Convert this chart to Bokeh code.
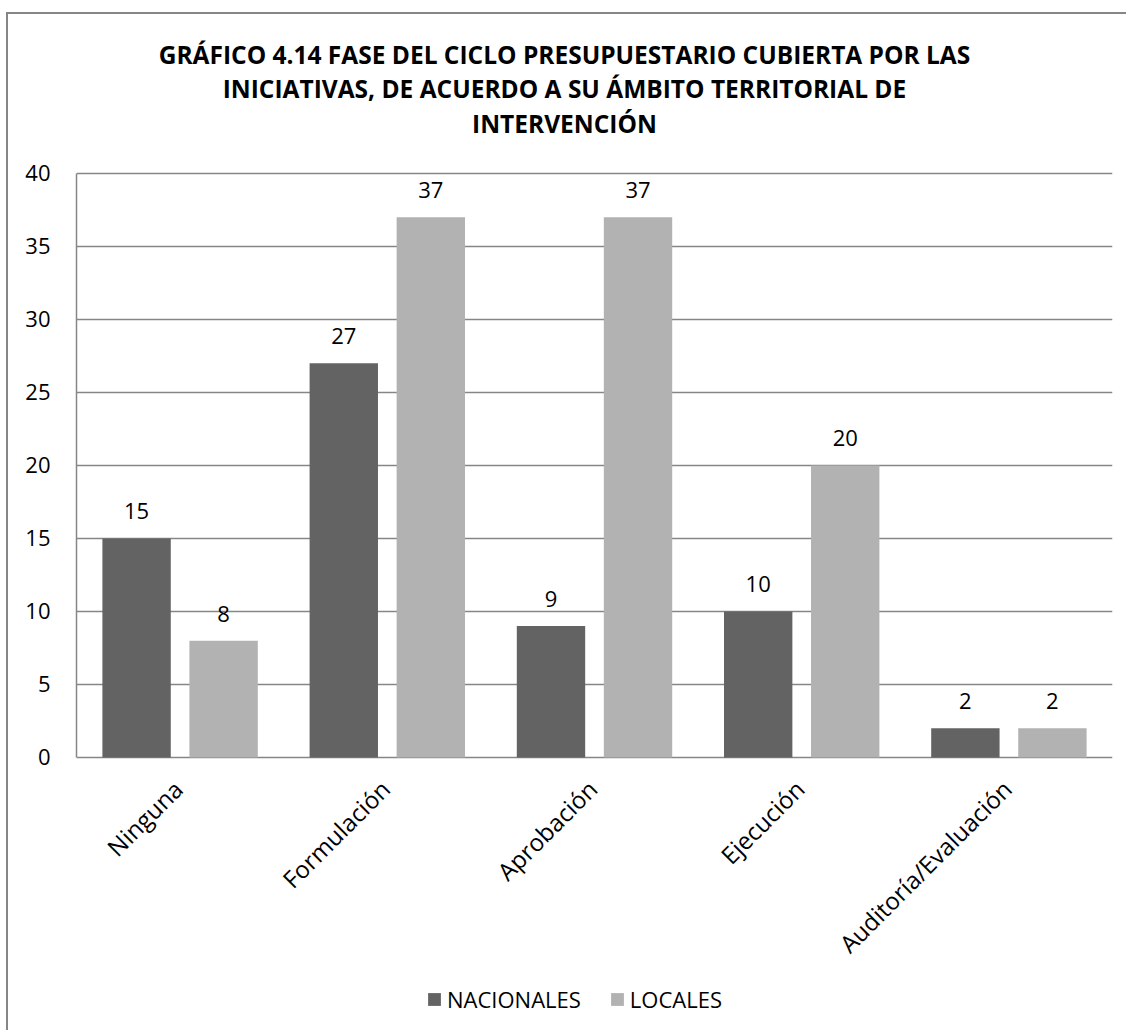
import math
from bokeh.plotting import figure
from bokeh.models import (FactorRange, Range1d, Legend, LegendItem, Label,
                          LabelSet, ColumnDataSource)
from bokeh.transform import dodge
from bokeh.core.properties import value
from bokeh.embed import file_html
from bokeh.resources import INLINE

categories = ["Ninguna", "Formulación", "Aprobación", "Ejecución", "Auditoría/Evaluación"]
nacionales = [15, 27, 9, 10, 2]
locales = [8, 37, 37, 20, 2]
series_names = ["NACIONALES", "LOCALES"]
y_ticks = [0, 5, 10, 15, 20, 25, 30, 35, 40]
title_lines = [
    "GRÁFICO 4.14 FASE DEL CICLO PRESUPUESTARIO CUBIERTA POR LAS",
    "INICIATIVAS, DE ACUERDO A SU ÁMBITO TERRITORIAL DE",
    "INTERVENCIÓN",
]

DARK = "#636363"
LIGHT = "#b2b2b2"
GRID = "#868686"
FONT = "Open Sans"

src = ColumnDataSource(dict(
    cat=categories,
    nac=nacionales,
    loc=locales,
    nac_s=[str(v) for v in nacionales],
    loc_s=[str(v) for v in locales],
))

# The plotting frame spans the full chart height so the title, the rotated
# category labels and the legend (all annotations) are drawn inside it.
p = figure(
    x_range=FactorRange(*categories, range_padding=0),
    y_range=Range1d(-18.70, 50.89),
    frame_width=1036, frame_height=1016,
    min_border_left=68, min_border_right=14,
    min_border_top=0, min_border_bottom=0,
    output_backend="svg", toolbar_location=None,
)
p.x_range.range_padding = 0

r1 = p.vbar(x=dodge("cat", -0.21, range=p.x_range), top="nac", width=0.33,
            source=src, fill_color=DARK, line_color=None)
r2 = p.vbar(x=dodge("cat", 0.21, range=p.x_range), top="loc", width=0.33,
            source=src, fill_color=LIGHT, line_color=None)

p.text(x=dodge("cat", -0.21, range=p.x_range), y="nac", text="nac_s", source=src,
       text_align="center", text_baseline="middle", y_offset=-27,
       text_font=value(FONT), text_font_size="22px", text_color="black")
p.text(x=dodge("cat", 0.21, range=p.x_range), y="loc", text="loc_s", source=src,
       text_align="center", text_baseline="middle", y_offset=-27,
       text_font=value(FONT), text_font_size="22px", text_color="black")

p.outline_line_color = None
p.xgrid.grid_line_color = None
p.ygrid.grid_line_color = GRID
p.ygrid.grid_line_width = 1.5
p.ygrid.ticker = y_ticks
p.yaxis.ticker = y_ticks
p.yaxis.bounds = (0, 40)
p.xaxis.visible = False

yax = p.yaxis[0]
yax.axis_line_color = GRID
yax.axis_line_width = 1.5
yax.major_tick_line_color = None
yax.minor_tick_line_color = None
yax.major_tick_out = 0
yax.major_tick_in = 0
yax.major_label_text_font = FONT
yax.major_label_text_color = "black"
yax.major_label_text_font_size = "22px"
yax.major_label_standoff = 26

# category labels, rotated 45 degrees, ending at the category position
cat_labels = LabelSet(x="cat", y=0, text="cat", source=src,
                      x_offset=-2, y_offset=-27, angle=math.pi / 4,
                      text_align="right", text_baseline="middle",
                      text_font=value(FONT), text_font_size="24px",
                      text_color="black")
p.add_layout(cat_labels)

# title, centred on the whole chart
title_y = [48.18, 45.79, 43.39]
for line, ty in zip(title_lines, title_y):
    p.add_layout(Label(x=2.355, y=ty, text=line, text_align="center",
                       text_baseline="middle", text_font=FONT,
                       text_font_size="24.5px", text_font_style="bold",
                       text_color="black"))

legend = Legend(items=[LegendItem(label=series_names[0], renderers=[r1]),
                       LegendItem(label=series_names[1], renderers=[r2])],
                orientation="horizontal", location=(350, 16),
                label_text_font=FONT, label_text_font_size="22px",
                label_text_color="black",
                glyph_width=16, glyph_height=16, spacing=28, label_standoff=5,
                padding=0, margin=0,
                border_line_color=None, background_fill_alpha=0)
p.add_layout(legend, "center")

p.styles = {"border-left": "2px solid #868686", "border-top": "2px solid #868686",
            "margin-left": "6px", "margin-top": "12px"}

open("out.html", "w").write(file_html(p, INLINE))
